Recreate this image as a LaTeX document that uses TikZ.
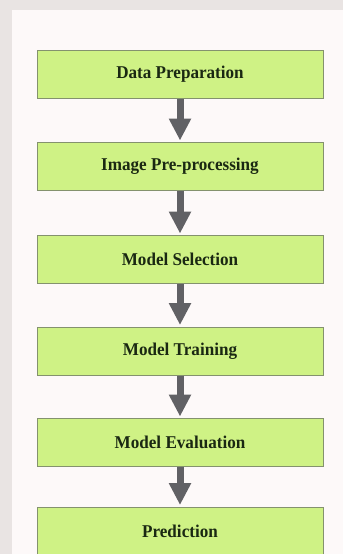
\documentclass[tikz,border=0pt]{standalone}
\usepackage{fontspec}
\usepackage{graphicx}
\setmainfont{Liberation Serif}
\usetikzlibrary{arrows.meta}
\definecolor{bgout}{HTML}{E9E4E3}
\definecolor{panel}{HTML}{FDF9F9}
\definecolor{boxfill}{HTML}{CFF285}
\definecolor{boxline}{HTML}{84926E}
\definecolor{arrowc}{HTML}{616165}
\definecolor{txt}{HTML}{1A2812}
\newcommand{\cond}[1]{\scalebox{0.95}[1]{#1}}
\tikzset{
  stepbox/.style={draw=boxline, line width=1pt, fill=boxfill, minimum width=286pt, minimum height=48pt, inner sep=0pt,
    font=\fontsize{18}{20}\selectfont\bfseries, text=txt},
  flowarrow/.style={draw=arrowc, line width=7pt, -{Triangle[width=21pt,length=22pt]}, shorten >=1.5pt}
}
\begin{document}
\begin{tikzpicture}[x=1pt,y=-1pt]
\useasboundingbox (0,0) rectangle (343,554);
\fill[bgout] (0,0) rectangle (343,554);
\fill[panel] (12,10) rectangle (343,554);
\node[stepbox] (n1) at (180,74.5) {\cond{Data Preparation}};
\node[stepbox] (n2) at (180,166.5) {\cond{Image Pre-processing}};
\node[stepbox] (n3) at (180,259.5) {\cond{Model Selection}};
\node[stepbox] (n4) at (180,351) {\cond{Model Training}};
\node[stepbox] (n5) at (180,442.5) {\cond{Model Evaluation}};
\node[stepbox] (n6) at (180,531) {\cond{Prediction}};
\foreach \a/\b in {n1/n2,n2/n3,n3/n4,n4/n5,n5/n6}
  \draw[flowarrow] (\a.south) -- (\b.north);
\end{tikzpicture}
\end{document}
